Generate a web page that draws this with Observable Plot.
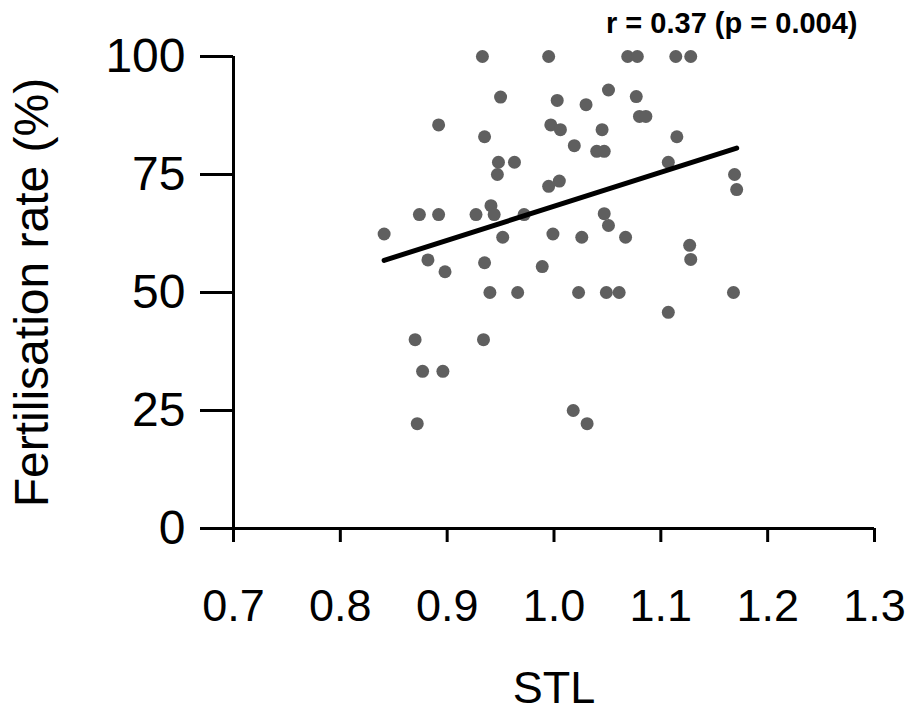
<!DOCTYPE html>
<html>
<head>
<meta charset="utf-8">
<script src="https://cdn.jsdelivr.net/npm/d3@7"></script>
<script src="https://cdn.jsdelivr.net/npm/@observablehq/plot@0.6"></script>
<style>
  html, body { margin: 0; padding: 0; background: #fff; }
  #chart svg { display: block; }
</style>
</head>
<body>
<div id="chart"></div>
<script>
// STL values (x) and fertilisation rate (%) (y)
const stl = [
  0.933, 0.950, 0.892, 0.935, 0.948, 0.963, 0.947, 0.874, 0.892, 0.927,
  0.941, 0.944, 0.972, 0.841, 0.952, 0.995, 1.069, 1.078, 1.114, 1.128,
  1.051, 1.003, 1.030, 1.077, 1.080, 1.086, 0.997, 1.006, 1.045, 1.115,
  1.019, 1.040, 1.047, 1.107, 1.005, 0.995, 1.047, 1.051, 0.999, 1.026,
  1.067, 1.169, 1.171, 0.882, 0.898, 0.935, 0.940, 0.966, 0.870, 0.934,
  0.877, 0.896, 0.872, 0.989, 1.023, 1.049, 1.061, 1.107, 1.127, 1.128,
  1.018, 1.031, 1.168
];
const fert = [
  100, 91.4, 85.5, 83, 77.6, 77.6, 75, 66.5, 66.5, 66.5,
  68.4, 66.5, 66.5, 62.4, 61.7, 100, 100, 100, 100, 100,
  92.9, 90.7, 89.8, 91.5, 87.3, 87.3, 85.5, 84.5, 84.5, 83,
  81.1, 79.9, 79.9, 77.6, 73.6, 72.5, 66.7, 64.2, 62.4, 61.7,
  61.7, 75, 71.8, 56.9, 54.4, 56.3, 50, 50, 40, 40,
  33.3, 33.3, 22.2, 55.5, 50, 50, 50, 45.8, 60, 57,
  25, 22.2, 50
];
const xTicks = [0.7, 0.8, 0.9, 1.0, 1.1, 1.2, 1.3];
const yTicks = [0, 25, 50, 75, 100];
const statsText = ["r = 0.37 (p = 0.004)"];
const xLabel = "STL";
const yLabel = "Fertilisation rate (%)";

const data = stl.map((x, i) => ({x, y: fert[i]}));
const font = "'Liberation Sans', Arial, sans-serif";

const chart = Plot.plot({
  width: 906,
  height: 713,
  marginLeft: 233,
  marginRight: 32,
  marginTop: 56,
  marginBottom: 185,
  style: {fontFamily: font, background: "#fff", color: "#000"},
  x: {domain: [0.7, 1.3]},
  y: {domain: [0, 100]},
  marks: [
    Plot.axisY(yTicks, {
      tickSize: 33, tickPadding: 15, fontSize: 48, strokeWidth: 3,
      label: yLabel, labelAnchor: "center", labelOffset: 220, labelArrow: "none"
    }),
    Plot.axisX(xTicks, {
      tickSize: 14, tickPadding: 47, fontSize: 45, strokeWidth: 3,
      tickFormat: d => d.toFixed(1),
      label: xLabel, labelAnchor: "center", labelOffset: 174, labelArrow: "none"
    }),
    Plot.ruleX([0.7], {y1: 0, y2: 100, strokeWidth: 3}),
    Plot.ruleY([0], {strokeWidth: 3}),
    Plot.dot(data, {x: "x", y: "y", r: 6.5, fill: "#5f5f5f", stroke: "none"}),
    Plot.linearRegressionY(data, {x: "x", y: "y", stroke: "#000", strokeWidth: 5, ci: 0}),
    Plot.text(statsText, {
      frameAnchor: "top-right", textAnchor: "end", lineAnchor: "bottom",
      dx: -17, dy: -24, fontSize: 29, fontWeight: "bold", fill: "#000"
    })
  ]
});
document.getElementById("chart").append(chart);
</script>
</body>
</html>
